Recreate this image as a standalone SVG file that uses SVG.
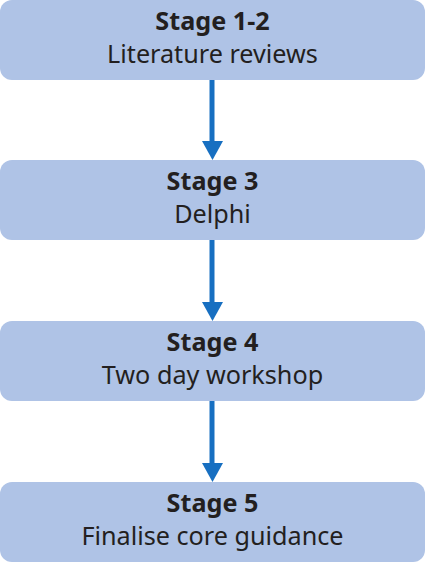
<svg xmlns="http://www.w3.org/2000/svg" width="425" height="562" viewBox="0 0 425 562">
<style>
.box{fill:#afc3e6}
.t{font-family:"Noto Sans","Open Sans",sans-serif;font-size:25.2px;fill:#231f20;text-anchor:middle}
.b{font-weight:bold}
.c{stroke:#176fc1;stroke-width:5;fill:none}
.h{fill:#176fc1}
</style>
<rect width="425" height="562" fill="#ffffff"/>
<g id="connectors">
<line class="c" x1="212" y1="80" x2="212" y2="142"/><polygon class="h" points="202,141 223,141 212.5,160"/>
<line class="c" x1="212" y1="240" x2="212" y2="303"/><polygon class="h" points="202,302 223,302 212.5,321"/>
<line class="c" x1="212" y1="401" x2="212" y2="464"/><polygon class="h" points="202,463 223,463 212.5,482"/>
</g>
<g id="n1"><rect class="box" x="0" y="0" width="425" height="80" rx="12"/><text class="t b" x="212.5" y="30">Stage 1-2</text><text class="t" x="212.5" y="63">Literature reviews</text></g>
<g id="n2"><rect class="box" x="0" y="160" width="425" height="80" rx="12"/><text class="t b" x="212.5" y="190">Stage 3</text><text class="t" x="212.5" y="223">Delphi</text></g>
<g id="n3"><rect class="box" x="0" y="321" width="425" height="80" rx="12"/><text class="t b" x="212.5" y="351">Stage 4</text><text class="t" x="212.5" y="384">Two day workshop</text></g>
<g id="n4"><rect class="box" x="0" y="482" width="425" height="80" rx="12"/><text class="t b" x="212.5" y="512">Stage 5</text><text class="t" x="212.5" y="545">Finalise core guidance</text></g>
</svg>
